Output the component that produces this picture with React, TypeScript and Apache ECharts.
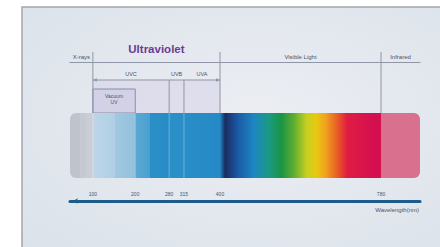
import React, { useEffect, useRef } from "react";
import * as echarts from "echarts";

// ---- data ----
const AXIS_MIN = 46;
const AXIS_MAX = 872;

const tickValues = [100, 200, 280, 315, 400, 780];
const tickLabels = ["100", "200", "280", "315", "400", "780"];
const axisName = "Wavelength(nm)";

const regionNames = ["X-rays", "Ultraviolet", "Visible Light", "Infrared"];
const regionFrom = [46, 100, 400, 780];
const regionTo = [100, 400, 780, 872];

const uvBandNames = ["UVC", "UVB", "UVA"];
const uvBandFrom = [100, 280, 315];
const uvBandTo = [280, 315, 400];

const vacuumName = "Vacuum\nUV";
const vacuumRange = [100, 200];

// spectrum colour stops (wavelength nm -> colour)
const spectrumNm = [
  46, 69, 69, 83, 83, 100, 100, 152, 152, 200, 200, 235, 235, 280, 280, 315, 315, 400,
  400, 412, 425, 445, 480, 515, 545, 575, 605, 628, 650, 675, 700, 760, 780, 780, 872,
];
const spectrumColors = [
  "#bfc3cc", "#bfc3cc", "#c5c9d2", "#c5c9d2", "#c9cdd6", "#c9cdd6", "#bcd6e8", "#b0cfe4",
  "#a2c8e0", "#92c1dd", "#5aa8d4", "#4aa0d0", "#2b8fc7", "#278cc6", "#2a90c8", "#2a8fc7",
  "#2a8fc8", "#2489c5", "#2287c4", "#1b2b5e", "#1c3f82", "#1a5ea8", "#1e86c3", "#1a9a84",
  "#1a9444", "#5fae32", "#c8d020", "#e8c810", "#f0a020", "#e86224", "#e01c42", "#d41050",
  "#d41050", "#d8708e", "#d8708e",
];

// vertical layout levels (px below the top axis line)
const LV_TITLE = -13;
const LV_REGION = -5;
const LV_VERT_TOP = -10;
const LV_UV_LABEL = 12;
const LV_UV_LINE = 18;
const LV_VAC_TOP = 27;
const LV_BAR_TOP = 51;
const LV_BAR_BOTTOM = 116;

const FONT = "'Liberation Sans', Arial, sans-serif";
const TEXT = "#4b5262";
const LINE = "#8f96a6";

export default function App() {
  const ref = useRef<HTMLDivElement>(null);

  useEffect(() => {
    if (!ref.current) return;
    const chart = echarts.init(ref.current, null, { renderer: "svg" });

    const span = AXIS_MAX - AXIS_MIN;
    const stops = spectrumNm.map((nm, i) => ({
      offset: Math.min(1, Math.max(0, (nm - AXIS_MIN) / span)),
      color: spectrumColors[i],
    }));

    const renderItem = (params: any, api: any) => {
      const X = (nm: number) => api.coord([nm, 0])[0];
      const Y = (lv: number) => api.coord([AXIS_MIN, lv])[1];
      const children: any[] = [];

      // lavender shade under UV bracket
      children.push({
        type: "rect",
        shape: { x: X(100), y: Y(LV_UV_LINE), width: X(400) - X(100), height: Y(LV_BAR_TOP) - Y(LV_UV_LINE) },
        style: { fill: "rgba(206,198,228,0.35)" },
      });
      // vacuum UV box
      children.push({
        type: "rect",
        shape: {
          x: X(vacuumRange[0]),
          y: Y(LV_VAC_TOP),
          width: X(vacuumRange[1]) - X(vacuumRange[0]),
          height: Y(LV_BAR_TOP) - Y(LV_VAC_TOP),
        },
        style: { fill: "rgba(196,188,224,0.35)", stroke: "#8a8ea4", lineWidth: 1 },
      });
      // spectrum bar
      children.push({
        type: "rect",
        shape: {
          x: X(AXIS_MIN),
          y: Y(LV_BAR_TOP),
          width: X(AXIS_MAX) - X(AXIS_MIN),
          height: Y(LV_BAR_BOTTOM) - Y(LV_BAR_TOP),
          r: 6,
        },
        style: { fill: new echarts.graphic.LinearGradient(0, 0, 1, 0, stops) },
      });
      // light lines inside the bar
      [100, 200, 280, 315].forEach((nm) => {
        children.push({
          type: "line",
          shape: { x1: X(nm), y1: Y(LV_BAR_TOP), x2: X(nm), y2: Y(LV_BAR_BOTTOM) },
          style: { stroke: "rgba(255,255,255,0.3)", lineWidth: 1 },
        });
      });
      // region boundaries
      [100, 400, 780].forEach((nm) => {
        children.push({
          type: "line",
          shape: { x1: X(nm), y1: Y(LV_VERT_TOP), x2: X(nm), y2: Y(LV_BAR_TOP) },
          style: { stroke: LINE, lineWidth: 1 },
        });
      });
      [280, 315].forEach((nm) => {
        children.push({
          type: "line",
          shape: { x1: X(nm), y1: Y(LV_UV_LINE), x2: X(nm), y2: Y(LV_BAR_TOP) },
          style: { stroke: LINE, lineWidth: 1 },
        });
      });
      // UV bracket line with arrows
      const ux0 = X(100), ux1 = X(400), uy = Y(LV_UV_LINE);
      children.push({
        type: "line",
        shape: { x1: ux0, y1: uy, x2: ux1, y2: uy },
        style: { stroke: LINE, lineWidth: 1 },
      });
      children.push({
        type: "polygon",
        shape: { points: [[ux0, uy], [ux0 + 4, uy - 1.8], [ux0 + 4, uy + 1.8]] },
        style: { fill: LINE },
      });
      children.push({
        type: "polygon",
        shape: { points: [[ux1, uy], [ux1 - 4, uy - 1.8], [ux1 - 4, uy + 1.8]] },
        style: { fill: LINE },
      });
      // region labels
      regionNames.forEach((name, i) => {
        const cx = X((regionFrom[i] + regionTo[i]) / 2);
        const isUV = name === "Ultraviolet";
        children.push({
          type: "text",
          x: cx,
          y: Y(isUV ? LV_TITLE : LV_REGION),
          style: {
            text: name,
            fill: isUV ? "#6b3d92" : TEXT,
            font: isUV ? `bold 11.5px ${FONT}` : `6px ${FONT}`,
            align: "center",
            verticalAlign: "middle",
          },
        });
      });
      // UV band labels
      uvBandNames.forEach((name, i) => {
        children.push({
          type: "text",
          x: X((uvBandFrom[i] + uvBandTo[i]) / 2),
          y: Y(LV_UV_LABEL),
          style: { text: name, fill: TEXT, font: `5.5px ${FONT}`, align: "center", verticalAlign: "middle" },
        });
      });
      // vacuum UV label
      children.push({
        type: "text",
        x: X((vacuumRange[0] + vacuumRange[1]) / 2),
        y: Y((LV_VAC_TOP + LV_BAR_TOP) / 2 - 2),
        style: {
          text: vacuumName,
          fill: TEXT,
          font: `5px ${FONT}`,
          align: "center",
          verticalAlign: "middle",
          lineHeight: 6,
        },
      });
      return { type: "group", children };
    };

    chart.setOption({
      animation: false,
      backgroundColor: "#ffffff",
      grid: { left: 70, right: 20, top: 62, bottom: 46, containLabel: false, outerBoundsMode: "none" },
      xAxis: [
        {
          type: "value",
          min: AXIS_MIN,
          max: AXIS_MAX,
          position: "bottom",
          splitLine: { show: false },
          axisTick: { show: false },
          axisLine: {
            show: true,
            onZero: false,
            lineStyle: { color: "#1f5b8a", width: 3 },
            symbol: ["arrow", "none"],
            symbolSize: [4, 5],
            symbolOffset: [3, 0],
          },
          axisLabel: {
            show: true,
            inside: true,
            margin: 5,
            customValues: tickValues,
            formatter: (v: number) => {
              const i = tickValues.indexOf(v);
              return i >= 0 ? tickLabels[i] : "";
            },
            color: TEXT,
            fontSize: 5,
            fontFamily: FONT,
          },
        },
        {
          type: "value",
          min: AXIS_MIN,
          max: AXIS_MAX,
          position: "top",
          splitLine: { show: false },
          axisTick: { show: false },
          axisLabel: { show: false },
          axisLine: { show: true, onZero: false, lineStyle: { color: LINE, width: 1 } },
        },
      ],
      yAxis: {
        type: "value",
        min: 0,
        max: 139,
        inverse: true,
        show: false,
      },
      graphic: [
        {
          type: "rect",
          z: -100,
          shape: { x: 22, y: 7, width: 430, height: 250 },
          style: {
            fill: new echarts.graphic.RadialGradient(0.55, 0.45, 0.75, [
              { offset: 0, color: "#eceef3" },
              { offset: 1, color: "#dbe2ea" },
            ]),
            stroke: "#a3a5aa",
            lineWidth: 1.5,
          },
        },
        {
          type: "text",
          z: 10,
          x: 419,
          y: 210,
          style: {
            text: axisName,
            fill: TEXT,
            font: `6px ${FONT}`,
            align: "right",
            verticalAlign: "middle",
          },
        },
      ],
      series: [
        {
          type: "custom",
          xAxisIndex: 0,
          yAxisIndex: 0,
          clip: false,
          renderItem,
          data: [[0, 0]],
          silent: true,
        },
      ],
    });

    return () => chart.dispose();
  }, []);

  return (
    <div
      ref={ref}
      style={{ position: "absolute", left: 0, top: 0, width: 440, height: 247 }}
    />
  );
}
